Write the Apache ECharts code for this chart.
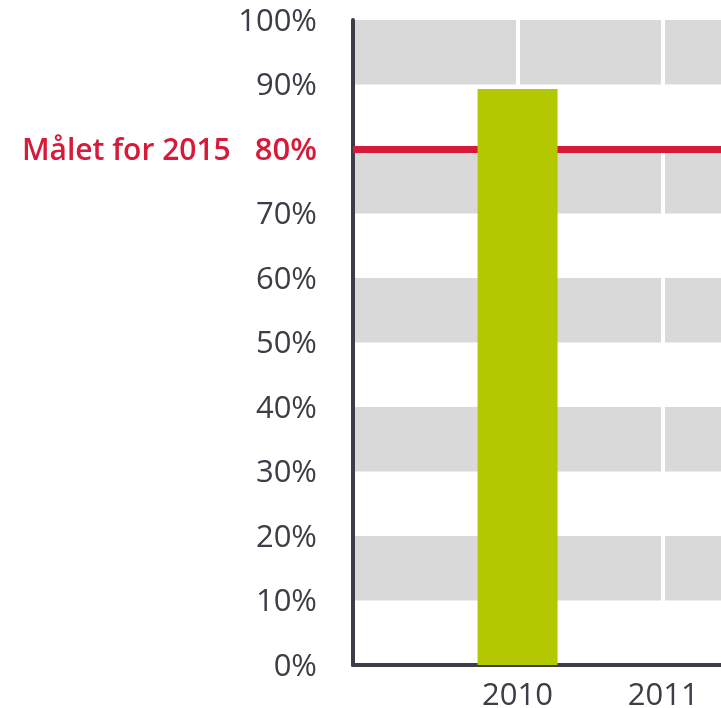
<!DOCTYPE html>
<html>
<head>
<meta charset="utf-8">
<script src="https://cdn.jsdelivr.net/npm/echarts@6/dist/echarts.min.js"></script>
<style>html,body{margin:0;padding:0;background:#fff}#c{width:721px;height:708px}</style>
</head>
<body>
<div id="c"></div>
<script>
const years = [2010];
const values = [89.3];
const xLabels = [2010, 2011];
const target = 80;
const targetLabel = 'Målet for 2015';
const xMin = 2008.87, xMax = 2011.397;

const chart = echarts.init(document.getElementById('c'));
const font = 'Open Sans';
chart.setOption({
  animation: false,
  grid: { left: 353, top: 20, bottom: 43, right: 0, containLabel: false, outerBoundsMode: 'none' },
  xAxis: {
    type: 'value', min: xMin, max: xMax, minInterval: 1, maxInterval: 1, z: 1,
    axisLine: { show: true, lineStyle: { color: '#3d3c47', width: 4 } },
    axisTick: { show: false },
    axisLabel: { showMinLabel: false, showMaxLabel: false, margin: 16, color: '#3d3c47', fontFamily: font, fontSize: 31,
      formatter: v => xLabels.indexOf(Math.round(v)) >= 0 && Math.abs(v - Math.round(v)) < 1e-6 ? String(Math.round(v)) : '' },
    splitLine: { show: false }
  },
  yAxis: {
    type: 'value', min: 0, max: 100, interval: 10, z: 0,
    axisLine: { show: true, lineStyle: { color: '#3d3c47', width: 4 } },
    axisTick: { show: false },
    splitLine: { show: false },
    splitArea: { show: true, areaStyle: { color: ['#ffffff', '#d9d9d9'] } },
    axisLabel: {
      margin: 36, color: '#3d3c47', fontFamily: font, fontSize: 31, padding: [4, 0, 0, 0],
      formatter: v => v === target ? '{t|' + targetLabel + '}{g| }{r|' + v + '%}' : v + '%',
      rich: {
        t: { color: '#d7193a', fontFamily: font, fontSize: 30, fontWeight: 600 },
        r: { color: '#d7193a', fontFamily: font, fontSize: 31, fontWeight: 600 },
        g: { width: 24 }
      }
    }
  },
  series: [
    {
      type: 'line', data: [], z: 0.8, silent: true,
      markLine: {
        z: 0.8, silent: true, symbol: ['none', 'none'], label: { show: false },
        lineStyle: { color: '#ffffff', width: 4, type: 'solid' },
        data: xLabels.map(x => ({ xAxis: x }))
      }
    },
    {
      type: 'line', data: [], z: 1.5, silent: true,
      markLine: {
        z: 1.5, silent: true, symbol: ['none', 'none'], label: { show: false },
        lineStyle: { color: '#d7193a', width: 7, type: 'solid' },
        data: [{ yAxis: target }]
      }
    },
    {
      type: 'bar', z: 2, barWidth: 80,
      itemStyle: { color: '#b3c800' },
      data: years.map((y, i) => [y, values[i]])
    }
  ]
});
</script>
</body>
</html>
